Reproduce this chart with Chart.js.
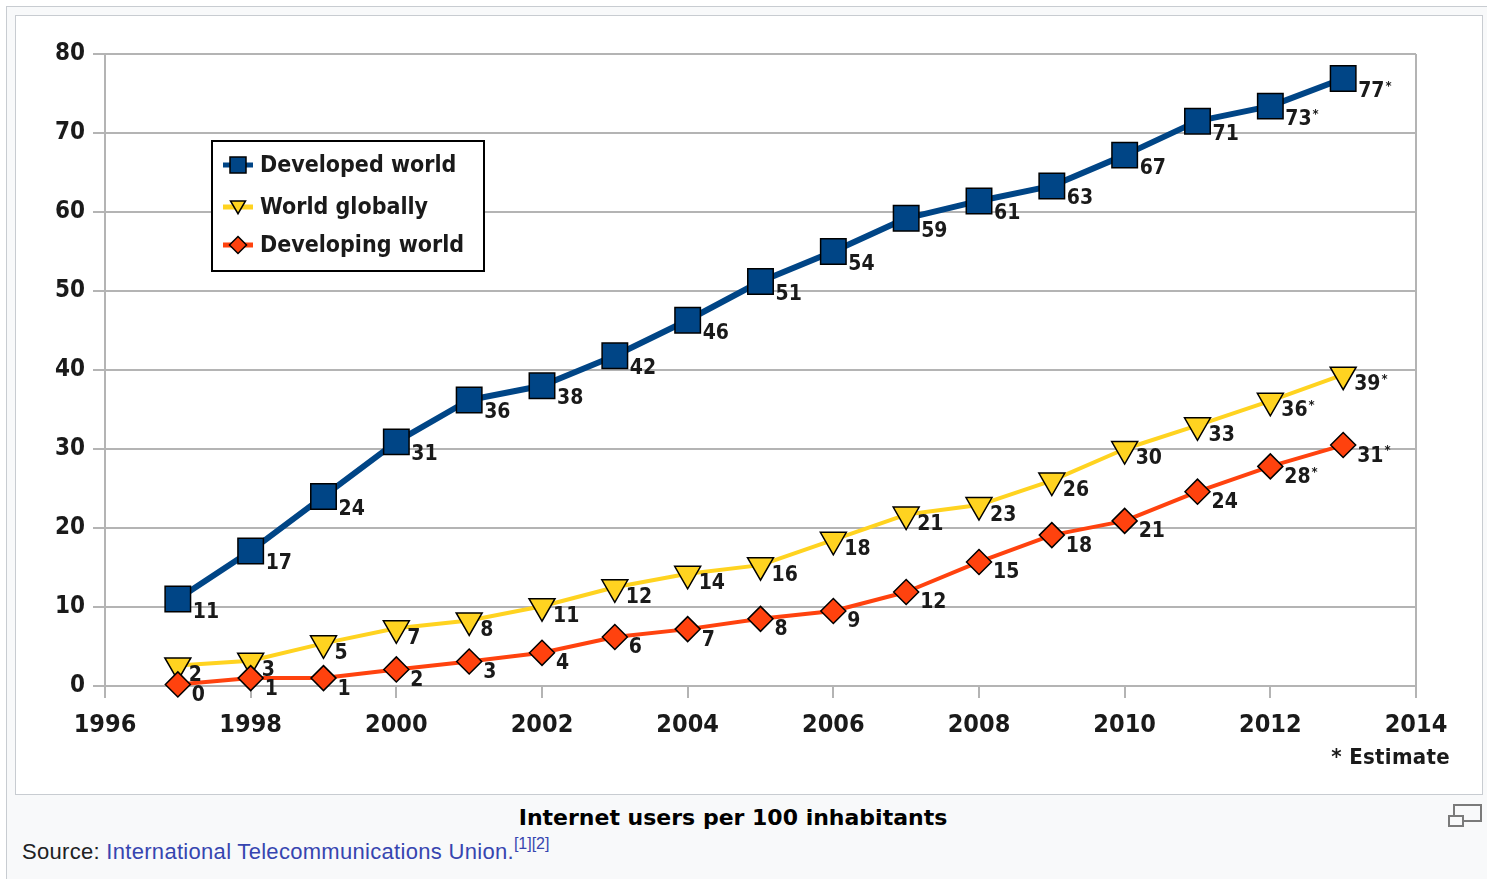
<!DOCTYPE html>
<html>
<head>
<meta charset="utf-8">
<script src="https://cdn.jsdelivr.net/npm/chart.js@4.4.1/dist/chart.umd.min.js"></script>
<style>
  html, body { margin: 0; padding: 0; background: #fff; overflow: hidden; }
  body { width: 1487px; height: 879px; position: relative; font-family: 'Liberation Sans', Arial, sans-serif; }
  #thumb { position: absolute; left: 6px; top: 6px; width: 1500px; height: 900px; border: 1px solid #c8ccd1; background: #f8f9fa; }
  #img { position: absolute; left: 15px; top: 15px; width: 1466px; height: 778px; border: 1px solid #c8ccd1; background: #fff; }
  #chart { position: absolute; left: 0; top: 0; }
  #est { position: absolute; right: 37px; top: 745px; font: bold 22px 'DejaVu Sans Condensed', 'DejaVu Sans', sans-serif; color: #1a1a1a; line-height: 24px; letter-spacing: 0.3px; }
  #caption { position: absolute; left: 16px; width: 1434px; top: 806px; text-align: center; font: bold 22px 'DejaVu Sans', sans-serif; color: #000; line-height: 24px; }
  #source { position: absolute; left: 22px; top: 840px; font-size: 22px; line-height: 24px; color: #202122; letter-spacing: 0.3px; }
  #source a { color: #3645b0; text-decoration: none; }
  #source sup { font-size: 16px; line-height: 0; vertical-align: 10px; letter-spacing: 0; }
  .mag { position: absolute; border: 2px solid #7a7a7a; }
</style>
</head>
<body>
<div id="thumb"></div>
<div id="img"><canvas id="chart" width="1466" height="778"></canvas></div>
<div id="est">* Estimate</div>
<div id="caption">Internet users per 100 inhabitants</div>
<div id="source">Source: <a>International Telecommunications Union.</a><sup><a>[1]</a><a>[2]</a></sup></div>
<div class="mag" style="left:1453px;top:804px;width:25px;height:14px;"></div>
<div class="mag" style="left:1448px;top:815px;width:12px;height:8px;background:#f8f9fa;"></div>
<script>
// values
const years = [1997, 1998, 1999, 2000, 2001, 2002, 2003, 2004, 2005, 2006, 2007, 2008, 2009, 2010, 2011, 2012, 2013];
const developed = [11, 17.1, 24, 30.9, 36.2, 38, 41.8, 46.3, 51.2, 55, 59.2, 61.4, 63.3, 67.2, 71.5, 73.4, 76.9];
const worldGlobal = [2.6, 3.2, 5.4, 7.3, 8.3, 10.1, 12.5, 14.2, 15.3, 18.5, 21.7, 22.9, 26, 30, 33, 36.1, 39.4];
const developing = [0.2, 1, 1, 2.1, 3.1, 4.2, 6.2, 7.2, 8.5, 9.5, 11.9, 15.7, 19.1, 20.9, 24.6, 27.8, 30.5];

// printed labels next to the points ('*' = estimate)
const developedLabels = ['11', '17', '24', '31', '36', '38', '42', '46', '51', '54', '59', '61', '63', '67', '71', '73*', '77*'];
const worldLabels = ['2', '3', '5', '7', '8', '11', '12', '14', '16', '18', '21', '23', '26', '30', '33', '36*', '39*'];
const developingLabels = ['0', '1', '1', '2', '3', '4', '6', '7', '8', '9', '12', '15', '18', '21', '24', '28*', '31*'];

const seriesNames = ['Developed world', 'World globally', 'Developing world'];
const xTicks = [1996, 1998, 2000, 2002, 2004, 2006, 2008, 2010, 2012, 2014];
const yTicks = [0, 10, 20, 30, 40, 50, 60, 70, 80];

const FONT = "'DejaVu Sans Condensed', 'DejaVu Sans', sans-serif";
const GRID = '#b4b4b4';

const toPoints = (vals) => vals.map((v, i) => ({ x: years[i], y: v }));

// small marker used in the legend
function drawMarker(ctx, style, x, y, s, fill) {
  ctx.save();
  ctx.fillStyle = fill;
  ctx.strokeStyle = '#000';
  ctx.lineWidth = 1.5;
  ctx.beginPath();
  if (style === 'rect') {
    ctx.rect(x - s / 2, y - s / 2, s, s);
  } else if (style === 'triangle') {
    ctx.moveTo(x - s / 2, y - s * 0.4);
    ctx.lineTo(x + s / 2, y - s * 0.4);
    ctx.lineTo(x, y + s * 0.45);
    ctx.closePath();
  } else {
    ctx.moveTo(x, y - s / 2);
    ctx.lineTo(x + s / 2, y);
    ctx.lineTo(x, y + s / 2);
    ctx.lineTo(x - s / 2, y);
    ctx.closePath();
  }
  ctx.fill();
  ctx.stroke();
  ctx.restore();
}

const framePlugin = {
  id: 'frame',
  beforeDatasetsDraw(chart) {
    const { ctx, chartArea: a } = chart;
    ctx.save();
    ctx.strokeStyle = GRID;
    ctx.lineWidth = 2;
    ctx.beginPath();
    ctx.moveTo(a.right, a.top);
    ctx.lineTo(a.right, a.bottom);
    ctx.stroke();
    ctx.restore();
  }
};

const pointLabelPlugin = {
  id: 'pointLabels',
  afterDatasetsDraw(chart) {
    const ctx = chart.ctx;
    ctx.save();
    ctx.fillStyle = '#1a1a1a';
    ctx.textBaseline = 'middle';
    ctx.textAlign = 'left';
    chart.data.datasets.forEach((ds, di) => {
      const meta = chart.getDatasetMeta(di);
      meta.data.forEach((pt, i) => {
        const txt = ds.pointText[i];
        const star = txt.endsWith('*');
        const num = star ? txt.slice(0, -1) : txt;
        const x = pt.x + ds.labelDx;
        const y = pt.y + ds.labelDy;
        ctx.font = 'bold 21px ' + FONT;
        ctx.fillText(num, x, y);
        if (star) {
          const w = ctx.measureText(num).width;
          ctx.font = 'bold 13px ' + FONT;
          ctx.fillText('*', x + w + 1, y - 5);
        }
      });
    });
    ctx.restore();
  }
};

// legend box drawn inside the plot, canvas coordinates
const legendPlugin = {
  id: 'boxLegend',
  afterDraw(chart) {
    const ctx = chart.ctx;
    const bx = 196, by = 125, bw = 272, bh = 130;
    const rows = [149, 191, 229];
    ctx.save();
    ctx.fillStyle = '#fff';
    ctx.fillRect(bx, by, bw, bh);
    ctx.strokeStyle = '#000';
    ctx.lineWidth = 2;
    ctx.strokeRect(bx, by, bw, bh);
    chart.data.datasets.forEach((ds, di) => {
      const y = rows[di];
      ctx.strokeStyle = ds.borderColor;
      ctx.lineWidth = 5;
      ctx.beginPath();
      ctx.moveTo(207, y);
      ctx.lineTo(237, y);
      ctx.stroke();
      drawMarker(ctx, ds.pointStyle, 222, y, ds.legendSize, ds.pointBackgroundColor);
      ctx.fillStyle = '#1a1a1a';
      ctx.font = 'bold 23px ' + FONT;
      ctx.textBaseline = 'middle';
      ctx.textAlign = 'left';
      ctx.fillText(ds.label, 244, y + 1);
    });
    ctx.restore();
  }
};

new Chart(document.getElementById('chart'), {
  type: 'line',
  data: {
    datasets: [
      {
        label: seriesNames[0],
        data: toPoints(developed),
        pointText: developedLabels,
        borderColor: '#004586',
        borderWidth: 6,
        pointStyle: 'rect',
        pointRadius: 18,
        pointBackgroundColor: '#004586',
        pointBorderColor: '#000',
        pointBorderWidth: 1.5,
        legendSize: 16,
        labelDx: 15,
        labelDy: 13,
        order: 1
      },
      {
        label: seriesNames[1],
        data: toPoints(worldGlobal),
        pointText: worldLabels,
        borderColor: '#ffd320',
        borderWidth: 4,
        pointStyle: 'triangle',
        pointRotation: 180,
        pointRadius: 15,
        pointBackgroundColor: '#ffd320',
        pointBorderColor: '#000',
        pointBorderWidth: 1.5,
        legendSize: 15,
        labelDx: 11,
        labelDy: 10,
        order: 3
      },
      {
        label: seriesNames[2],
        data: toPoints(developing),
        pointText: developingLabels,
        borderColor: '#ff420e',
        borderWidth: 4,
        pointStyle: 'rectRot',
        pointRadius: 12.5,
        pointBackgroundColor: '#ff420e',
        pointBorderColor: '#000',
        pointBorderWidth: 1.5,
        legendSize: 17,
        labelDx: 14,
        labelDy: 11,
        order: 2
      }
    ]
  },
  options: {
    responsive: false,
    animation: false,
    devicePixelRatio: 1,
    clip: false,
    layout: { padding: { top: 38, right: 66, left: 0, bottom: 0 } },
    elements: { line: { tension: 0, borderJoinStyle: 'round' } },
    plugins: { legend: { display: false }, tooltip: { enabled: false } },
    scales: {
      x: {
        type: 'linear',
        min: xTicks[0],
        max: xTicks[xTicks.length - 1],
        afterBuildTicks: (s) => { s.ticks = xTicks.map(v => ({ value: v })); },
        afterFit: (s) => { s.height = 108; },
        ticks: {
          callback: (v) => String(v),
          color: '#1a1a1a',
          font: { family: FONT, size: 25, weight: 'bold' },
          padding: 12,
          maxRotation: 0
        },
        grid: { drawOnChartArea: false, color: GRID, lineWidth: 2, tickLength: 12 },
        border: { color: GRID, width: 2 }
      },
      y: {
        min: yTicks[0],
        max: yTicks[yTicks.length - 1],
        afterBuildTicks: (s) => { s.ticks = yTicks.map(v => ({ value: v })); },
        afterFit: (s) => { s.width = 89; },
        ticks: {
          color: '#1a1a1a',
          font: { family: FONT, size: 24, weight: 'bold' },
          padding: 8
        },
        grid: { color: GRID, lineWidth: 2, tickLength: 12 },
        border: { color: GRID, width: 2 }
      }
    }
  },
  plugins: [framePlugin, pointLabelPlugin, legendPlugin]
});
</script>
</body>
</html>
